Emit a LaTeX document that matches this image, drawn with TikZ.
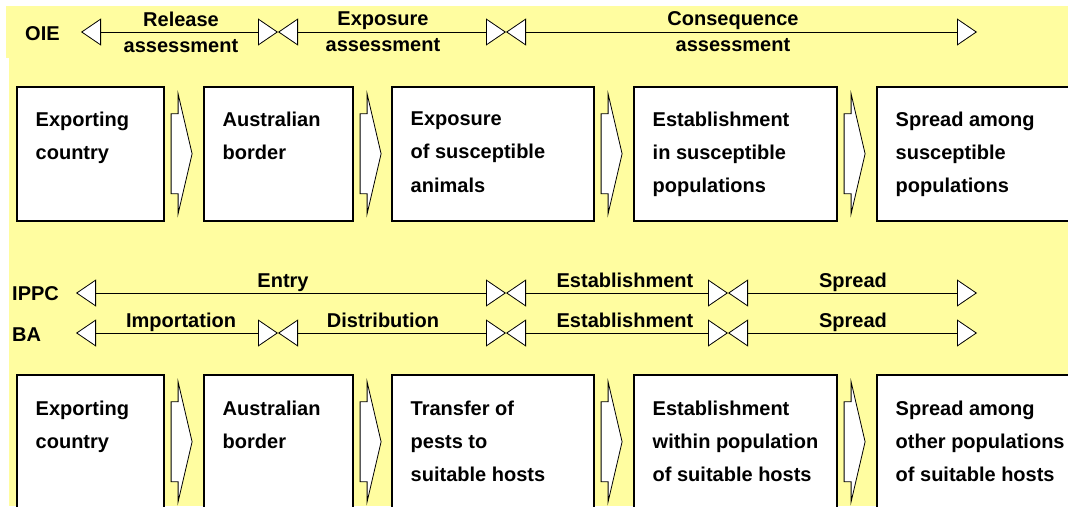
\documentclass[tikz,border=0pt]{standalone}
\usepackage{fontspec}
\setmainfont{Liberation Sans}
\usetikzlibrary{arrows.meta}
\definecolor{slideyellow}{RGB}{255,253,160}
\tikzset{
  stage/.style={draw, line width=1.6pt, fill=white, inner sep=0pt,
    minimum height=134pt, anchor=north west},
  stagetext/.style={anchor=north west, inner sep=0pt, align=left,
    font=\bfseries\fontsize{20}{33.3}\selectfont},
  phase/.style={inner sep=0pt, align=center,
    font=\bfseries\fontsize{20}{26}\selectfont},
  tag/.style={inner sep=0pt, anchor=base west, font=\bfseries\fontsize{20}{24}\selectfont},
  flowarrow/.style={draw, line width=0.8pt, fill=white},
  span/.style={draw, line width=0.8pt,
    {Triangle[length=20pt,width=27pt,fill=white]}-{Triangle[length=20pt,width=27pt,fill=white]}}
}
\begin{document}
\begin{tikzpicture}[x=1pt,y=-1pt]
\useasboundingbox (0,0) rectangle (1068,506);
\clip (0,0) rectangle (1068,506);
\fill[white] (0,0) rectangle (1068,506);
% slide background
\fill[slideyellow] (6,6) rectangle (1068,58);
\fill[slideyellow] (9,57) rectangle (1068,506);

% ---------- OIE scheme ----------
\node[tag] (oie) at (25,40) {OIE};
\coordinate (o0) at (81,32);
\coordinate (o1) at (278,32);
\coordinate (o2) at (506,32);
\coordinate (o3) at (977,32);
\draw[span] (o0) -- (o1);
\draw[span] (o1) -- (o2);
\draw[span] (o2) -- (o3);
\node[phase, anchor=north] (rel) at (181,11.7) {Release\\assessment};
\node[phase, anchor=north] (exp) at (383,11.7) {Exposure\\assessment};
\node[phase, anchor=north] (con) at (733,11.7) {Consequence\\assessment};

% top row of stages
\node[stage, minimum width=147pt] (b1) at (16,86) {};
\node[stage, minimum width=149pt] (b2) at (203,86) {};
\node[stage, minimum width=202pt] (b3) at (391,86) {};
\node[stage, minimum width=203pt] (b4) at (633,86) {};
\node[stage, minimum width=220pt] (b5) at (876,86) {};
\node[stagetext] (tb1) at ([xshift=19.5pt,yshift=-25.7pt]b1.north west) {Exporting\\country};
\node[stagetext] (tb2) at ([xshift=19.5pt,yshift=-25.7pt]b2.north west) {Australian\\border};
\node[stagetext] (tb3) at ([xshift=19.5pt,yshift=-25.7pt]b3.north west) {Exposure\\of susceptible\\animals};
\node[stagetext] (tb4) at ([xshift=19.5pt,yshift=-25.7pt]b4.north west) {Establishment\\in susceptible\\populations};
\node[stagetext] (tb5) at ([xshift=19.5pt,yshift=-25.7pt]b5.north west) {Spread among\\susceptible\\populations};

% ---------- IPPC and BA schemes ----------
\node[tag] (ippc) at (12,300) {IPPC};
\node[tag] (ba) at (12,341) {BA};
\coordinate (p0) at (76,293);
\coordinate (p1) at (506,293);
\coordinate (p2) at (728,293);
\coordinate (p3) at (977,293);
\draw[span] (p0) -- (p1);
\draw[span] (p1) -- (p2);
\draw[span] (p2) -- (p3);
\coordinate (q0) at (76,333);
\coordinate (q1) at (278,333);
\coordinate (q2) at (506,333);
\coordinate (q3) at (728,333);
\coordinate (q4) at (977,333);
\draw[span] (q0) -- (q1);
\draw[span] (q1) -- (q2);
\draw[span] (q2) -- (q3);
\draw[span] (q3) -- (q4);
\node[phase, anchor=base] (ent) at (283,287) {Entry};
\node[phase, anchor=base] (est1) at (625,287) {Establishment};
\node[phase, anchor=base] (spr1) at (853,287) {Spread};
\node[phase, anchor=base] (imp) at (181,327) {Importation};
\node[phase, anchor=base] (dis) at (383,327) {Distribution};
\node[phase, anchor=base] (est2) at (625,327) {Establishment};
\node[phase, anchor=base] (spr2) at (853,327) {Spread};

% bottom row of stages
\node[stage, minimum width=147pt] (c1) at (16,374) {};
\node[stage, minimum width=149pt] (c2) at (203,374) {};
\node[stage, minimum width=202pt] (c3) at (391,374) {};
\node[stage, minimum width=203pt] (c4) at (633,374) {};
\node[stage, minimum width=220pt] (c5) at (876,374) {};
\node[stagetext] (tc1) at ([xshift=19.5pt,yshift=-26.7pt]c1.north west) {Exporting\\country};
\node[stagetext] (tc2) at ([xshift=19.5pt,yshift=-26.7pt]c2.north west) {Australian\\border};
\node[stagetext] (tc3) at ([xshift=19.5pt,yshift=-26.7pt]c3.north west) {Transfer of\\pests to\\suitable hosts};
\node[stagetext] (tc4) at ([xshift=19.5pt,yshift=-26.7pt]c4.north west) {Establishment\\within population\\of suitable hosts};
\node[stagetext] (tc5) at ([xshift=19.5pt,yshift=-26.7pt]c5.north west) {Spread among\\other populations\\of suitable hosts};

% block arrows between successive stages
\foreach \s in {b1,b2,b3,b4,c1,c2,c3,c4}{
  \draw[flowarrow, shift={(\s.east)}]
    (6.5,-40) -- (13.5,-40) -- (13.5,-60) -- (27.5,0) -- (13.5,60) -- (13.5,40) -- (6.5,40) -- cycle;
}
\end{tikzpicture}
\end{document}
